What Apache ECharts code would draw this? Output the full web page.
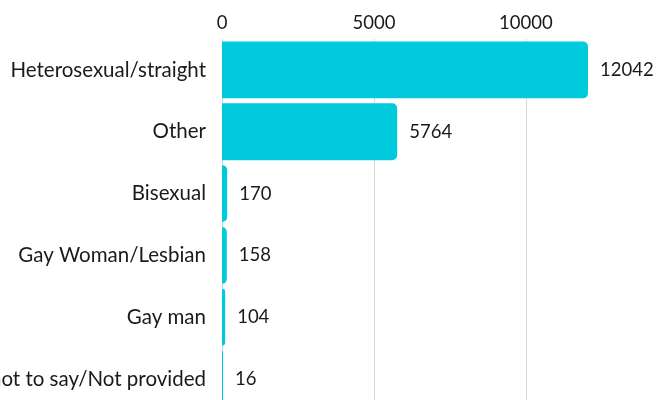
<!DOCTYPE html>
<html>
<head>
<meta charset="utf-8">
<script src="https://cdn.jsdelivr.net/npm/echarts@6/dist/echarts.min.js"></script>
<style>
  html, body { margin: 0; padding: 0; background: #ffffff; }
  #chart { width: 657px; height: 400px; }
</style>
</head>
<body>
<div id="chart"></div>
<script>
// Respondent counts by sexual orientation
const categories = [
  'Heterosexual/straight',
  'Other',
  'Bisexual',
  'Gay Woman/Lesbian',
  'Gay man',
  'Prefer not to say/Not provided'
];
const counts = [12042, 5764, 170, 158, 104, 16];
const tickValues = [0, 5000, 10000];

const FONT = 'Lato, "Open Sans", sans-serif';
const TEXT = '#1a1a1a';

const chart = echarts.init(document.getElementById('chart'), null, { renderer: 'canvas' });

chart.setOption({
  animation: false,
  backgroundColor: '#ffffff',
  grid: {
    left: 222, right: 69, top: 39, height: 371,
    containLabel: false, outerBoundsMode: 'none'
  },
  xAxis: {
    type: 'value',
    position: 'top',
    min: 0,
    max: 12042,
    interval: 5000,
    axisLine: { show: false },
    axisTick: { show: false },
    axisLabel: {
      fontFamily: FONT, fontSize: 18.5, color: TEXT, margin: 6,
      showMaxLabel: false,
      formatter: v => tickValues.includes(v) ? String(v) : ''
    },
    splitLine: { show: true, showMaxLine: false, lineStyle: { color: '#d9d9d9', width: 1 } }
  },
  yAxis: {
    type: 'category',
    data: categories,
    inverse: true,
    axisLine: { show: true, lineStyle: { color: '#d9d9d9' } },
    axisTick: { show: false },
    axisLabel: { fontFamily: FONT, fontSize: 20.5, color: TEXT, margin: 16 }
  },
  series: [{
    type: 'bar',
    data: counts,
    barCategoryGap: '8%',
    barMinHeight: 1,
    itemStyle: { color: '#00cadb', borderRadius: [0, 5, 5, 0] },
    label: {
      show: true, position: 'right', distance: 12,
      fontFamily: FONT, fontSize: 18.5, color: TEXT
    }
  }]
});
</script>
</body>
</html>
